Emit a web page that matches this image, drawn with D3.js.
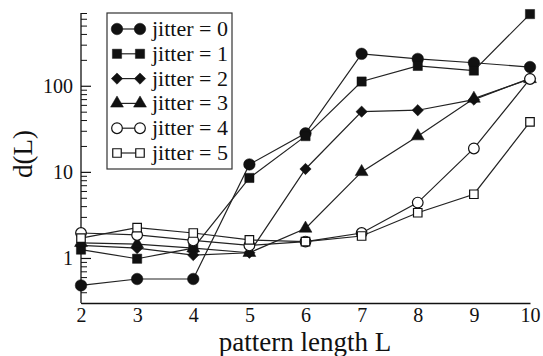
<!DOCTYPE html>
<html>
<head>
<meta charset="utf-8">
<script src="https://cdn.jsdelivr.net/npm/d3@7"></script>
<style>
  html, body { margin: 0; padding: 0; background: #fff; }
  svg { display: block; }
  text { font-family: "Liberation Serif", "DejaVu Serif", serif; fill: #111; }
</style>
</head>
<body>
<svg id="chart" width="543" height="356"></svg>
<script>
// Pattern lengths on the x axis
const lengths = [2, 3, 4, 5, 6, 7, 8, 9, 10];

// d(L) for each jitter level
const jitter0 = [0.48, 0.57, 0.57, 12.2, 28, 235, 205, 185, 165];
const jitter1 = [1.25, 0.98, 1.3, 8.5, 26, 112, 170, 150, 680];
const jitter2 = [1.4, 1.3, 1.08, 1.15, 10.8, 50, 52, 69, 122];
const jitter3 = [1.5, 1.45, 1.3, 1.15, 2.2, 10, 26, 71, 120];
const jitter4 = [1.95, 1.85, 1.6, 1.4, 1.55, 1.95, 4.4, 18.7, 120];
const jitter5 = [1.7, 2.25, 1.95, 1.62, 1.55, 1.8, 3.35, 5.5, 38];

const seriesNames = ["jitter = 0", "jitter = 1", "jitter = 2", "jitter = 3", "jitter = 4", "jitter = 5"];
const seriesValues = [jitter0, jitter1, jitter2, jitter3, jitter4, jitter5];
const seriesSymbols = ["circle", "square", "diamond", "triangle", "circle", "square"];
const seriesFilled = [true, true, true, true, false, false];

const yTickValues = [1, 10, 100];

const svg = d3.select("#chart");
const ink = "#111";

const x = d3.scaleLinear().domain([2, 10]).range([81, 530]);
const y = d3.scaleLog().domain([0.3, 700]).range([303, 13]);

// Bottom axis: a plain line with numeric labels
const xAxis = d3.axisBottom(x).tickValues(lengths).tickSize(0).tickPadding(5).tickFormat(d3.format("d"));
const gx = svg.append("g").attr("transform", "translate(0,303)").call(xAxis);
gx.select(".domain").attr("stroke", ink).attr("stroke-width", 1.3);
gx.selectAll("text").attr("font-size", 20).attr("fill", ink);

// Left axis: log scale with inward major and minor ticks
const minorTicks = y.ticks().filter(v => yTickValues.indexOf(v) < 0 && v >= 0.3 && v <= 700);
const gyMinor = svg.append("g").attr("transform", "translate(81,0)")
  .call(d3.axisRight(y).tickValues(minorTicks).tickSize(6).tickFormat(""));
gyMinor.select(".domain").remove();
gyMinor.selectAll("line").attr("stroke", ink).attr("stroke-width", 1);

const gy = svg.append("g").attr("transform", "translate(81,0)")
  .call(d3.axisRight(y).tickValues(yTickValues).tickSize(10).tickFormat(d3.format("d")));
gy.select(".domain").attr("stroke", ink).attr("stroke-width", 1.3).attr("d", "M0,303V13");
gy.selectAll("line").attr("stroke", ink).attr("stroke-width", 1.2);
gy.selectAll("text").attr("x", -8).attr("text-anchor", "end")
  .attr("font-size", 20).attr("fill", ink);

// Axis titles
svg.append("text").attr("x", 305).attr("y", 351).attr("text-anchor", "middle")
  .attr("font-size", 27).text("pattern length L");
svg.append("text").attr("transform", "translate(32,154) rotate(-90)").attr("text-anchor", "middle")
  .attr("font-size", 27).text("d(L)");

// Marker shapes: the diamond is a square turned 45 degrees
const symbolDiamondSquare = {
  draw(context, size) {
    const r = Math.sqrt(size / 2);
    context.moveTo(0, -r);
    context.lineTo(r, 0);
    context.lineTo(0, r);
    context.lineTo(-r, 0);
    context.closePath();
  }
};
const symbolType = {
  circle: d3.symbolCircle,
  square: d3.symbolSquare,
  diamond: symbolDiamondSquare,
  triangle: d3.symbolTriangle
};
const symbolSize = { circle: 105, square: 85, diamond: 64, triangle: 72 };

function symbolPath(name, filled) {
  const s = filled ? symbolSize[name] : symbolSize[name] * 0.85;
  return d3.symbol().type(symbolType[name]).size(s)();
}

const line = d3.line().x((d, i) => x(lengths[i])).y(d => y(d));

// Series lines and markers
seriesValues.forEach((vals, k) => {
  const g = svg.append("g");
  g.append("path").attr("d", line(vals)).attr("fill", "none")
    .attr("stroke", "#222").attr("stroke-width", 1.2);
  g.selectAll("path.m").data(vals).join("path").attr("class", "m")
    .attr("transform", (d, i) => `translate(${x(lengths[i])},${y(d)})`)
    .attr("d", symbolPath(seriesSymbols[k], seriesFilled[k]))
    .attr("fill", seriesFilled[k] ? ink : "#fff")
    .attr("stroke", ink).attr("stroke-width", seriesFilled[k] ? 0.5 : 1.2);
});

// Legend
const legend = svg.append("g");
legend.append("rect").attr("x", 107).attr("y", 13).attr("width", 125).attr("height", 156)
  .attr("fill", "#fff").attr("stroke", "#333").attr("stroke-width", 1.2);
const rowY = d3.scaleLinear().domain([0, 5]).range([29, 153]);
seriesNames.forEach((name, k) => {
  const cy = rowY(k);
  legend.append("line").attr("x1", 117).attr("x2", 140).attr("y1", cy).attr("y2", cy)
    .attr("stroke", "#222").attr("stroke-width", 1.2);
  [117, 140].forEach(cx => {
    legend.append("path").attr("transform", `translate(${cx},${cy})`)
      .attr("d", symbolPath(seriesSymbols[k], seriesFilled[k]))
      .attr("fill", seriesFilled[k] ? ink : "#fff")
      .attr("stroke", ink).attr("stroke-width", seriesFilled[k] ? 0.5 : 1.2);
  });
  legend.append("text").attr("x", 152).attr("y", cy + 7).attr("font-size", 22).text(name);
});
</script>
</body>
</html>
